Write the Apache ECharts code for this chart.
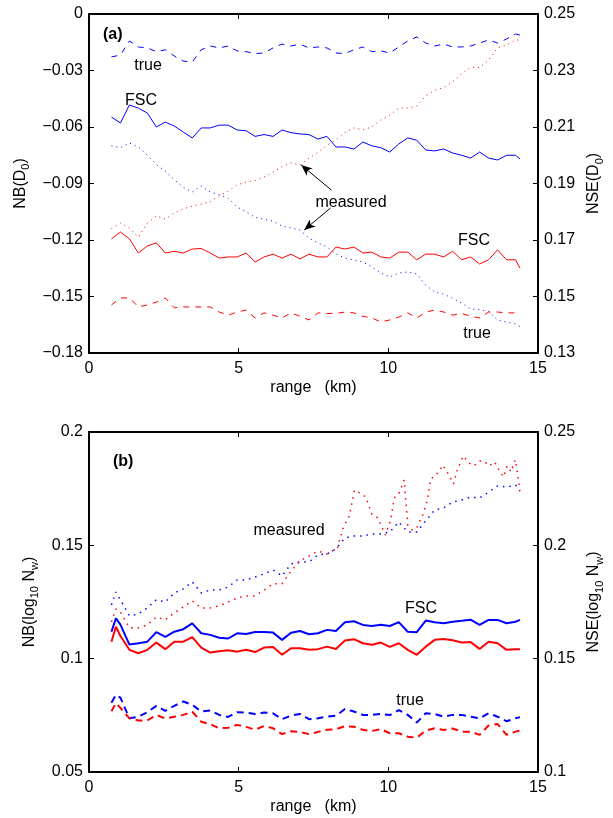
<!DOCTYPE html>
<html>
<head>
<meta charset="utf-8">
<script src="https://cdn.jsdelivr.net/npm/echarts@6/dist/echarts.min.js"></script>
<style>
  html, body { margin: 0; padding: 0; background: #fff; }
  #chart { width: 613px; height: 818px; }
</style>
</head>
<body>
<div id="chart"></div>
<script>
// range gates (km)
var xsA = [0.75,1.05,1.35,1.65,1.95,2.25,2.55,2.85,3.15,3.45,3.75,4.05,4.35,4.65,4.95,5.25,5.55,5.85,6.15,6.45,6.75,7.05,7.35,7.65,7.95,8.25,8.55,8.85,9.15,9.45,9.75,10.05,10.35,10.65,10.95,11.25,11.55,11.85,12.15,12.45,12.75,13.05,13.35,13.65,13.95,14.25,14.4];
var xsB = [0.75,0.9,1.05,1.35,1.65,1.95,2.25,2.55,2.85,3.15,3.45,3.75,4.05,4.35,4.65,4.95,5.25,5.55,5.85,6.15,6.45,6.75,7.05,7.35,7.65,7.95,8.25,8.55,8.85,9.15,9.45,9.75,10.05,10.35,10.65,10.95,11.25,11.55,11.85,12.15,12.45,12.75,13.05,13.35,13.65,13.95,14.25,14.4];
var xsBMeasRed = [0.75,0.9,1.05,1.35,1.65,1.95,2.25,2.55,2.85,3.15,3.45,3.75,4.05,4.35,4.65,4.95,5.25,5.55,5.85,6.15,6.45,6.75,7.05,7.35,7.65,7.95,8.3,8.5,8.7,8.87,9.05,9.25,9.45,9.65,9.9,10.07,10.2,10.35,10.53,10.65,10.8,10.95,11.15,11.3,11.42,11.6,11.83,12.0,12.18,12.3,12.5,12.7,12.85,13.05,13.2,13.37,13.55,13.7,13.85,13.97,14.1,14.24,14.33,14.4];

// (a) D0 : NB on left axis (blue), NSE on right axis (red)
var nbTrueA = [-0.0228,-0.0218,-0.0143,-0.0175,-0.018,-0.020,-0.019,-0.0223,-0.025,-0.0255,-0.019,-0.017,-0.018,-0.017,-0.0196,-0.020,-0.021,-0.0207,-0.018,-0.016,-0.017,-0.016,-0.018,-0.0175,-0.018,-0.0207,-0.021,-0.019,-0.0175,-0.020,-0.0196,-0.0207,-0.0175,-0.0143,-0.0122,-0.0154,-0.017,-0.016,-0.0175,-0.0175,-0.017,-0.0154,-0.0138,-0.0154,-0.0133,-0.0106,-0.0112];
var nbFscA = [-0.0547,-0.0579,-0.0483,-0.050,-0.0526,-0.060,-0.0574,-0.0595,-0.0627,-0.0658,-0.0605,-0.0605,-0.059,-0.059,-0.0616,-0.062,-0.065,-0.064,-0.065,-0.0616,-0.063,-0.0637,-0.064,-0.0664,-0.065,-0.0706,-0.0706,-0.0717,-0.068,-0.070,-0.071,-0.0733,-0.069,-0.0658,-0.067,-0.0722,-0.0727,-0.0717,-0.0738,-0.075,-0.0765,-0.0733,-0.0765,-0.0775,-0.075,-0.075,-0.077];
var nbMeasA = [-0.070,-0.071,-0.0685,-0.0706,-0.075,-0.080,-0.0834,-0.088,-0.092,-0.0945,-0.0913,-0.0945,-0.096,-0.0977,-0.1025,-0.105,-0.108,-0.109,-0.110,-0.1126,-0.1136,-0.1147,-0.119,-0.1216,-0.1237,-0.1274,-0.1296,-0.1306,-0.1317,-0.1343,-0.1375,-0.1397,-0.1375,-0.137,-0.138,-0.144,-0.1476,-0.1487,-0.151,-0.1535,-0.1566,-0.157,-0.158,-0.1625,-0.1635,-0.1646,-0.166];
var nseTrueA = [0.147,0.1495,0.1495,0.1463,0.147,0.148,0.1495,0.146,0.1463,0.1463,0.1463,0.1463,0.1445,0.1434,0.1445,0.1452,0.1424,0.1442,0.1434,0.1424,0.1442,0.143,0.1417,0.1442,0.144,0.144,0.1445,0.1442,0.143,0.1424,0.141,0.1417,0.1427,0.1442,0.1424,0.1445,0.1452,0.1445,0.1434,0.144,0.143,0.1424,0.1445,0.1445,0.1442,0.1442,0.144];
var nseFscA = [0.1704,0.1728,0.1704,0.1654,0.1679,0.169,0.1654,0.166,0.1654,0.1668,0.167,0.1654,0.1636,0.164,0.164,0.1654,0.1622,0.164,0.165,0.1636,0.165,0.1633,0.165,0.164,0.164,0.1675,0.1668,0.1675,0.1654,0.1657,0.164,0.1636,0.1657,0.1657,0.163,0.165,0.165,0.164,0.166,0.163,0.164,0.1615,0.163,0.1665,0.163,0.163,0.160];
var nseMeasA = [0.174,0.176,0.1742,0.171,0.176,0.1785,0.1774,0.1796,0.181,0.182,0.1827,0.1835,0.1856,0.1873,0.1895,0.1905,0.191,0.1923,0.194,0.196,0.1973,0.1965,0.199,0.201,0.2036,0.2054,0.208,0.2097,0.209,0.210,0.2125,0.2142,0.2167,0.2167,0.2174,0.221,0.223,0.224,0.226,0.2288,0.2312,0.231,0.2337,0.238,0.239,0.2408,0.2408];

// (b) log10 Nw
var nbTrueB = [0.0806,0.084,0.0828,0.0737,0.0744,0.0764,0.0792,0.077,0.0792,0.0811,0.0796,0.0767,0.0771,0.0752,0.0743,0.0764,0.0762,0.0756,0.0762,0.0759,0.0733,0.0749,0.0756,0.0733,0.0737,0.0744,0.0748,0.0778,0.0767,0.0752,0.0752,0.0756,0.0751,0.0773,0.0752,0.0718,0.0759,0.0756,0.0744,0.0752,0.0752,0.0744,0.0737,0.0759,0.0744,0.0724,0.0737,0.0742];
var nbFscB = [0.1119,0.1178,0.115,0.1062,0.1068,0.1075,0.1117,0.1096,0.1119,0.113,0.1156,0.1112,0.1105,0.1092,0.1089,0.1112,0.1109,0.1118,0.1118,0.1115,0.1083,0.1114,0.1122,0.1108,0.1112,0.1127,0.1122,0.1161,0.1165,0.1149,0.1144,0.115,0.1144,0.1161,0.1119,0.1117,0.1168,0.1161,0.1156,0.1163,0.1167,0.1172,0.1149,0.1171,0.1171,0.1156,0.1163,0.1171];
var nbMeasB = [0.1237,0.1294,0.126,0.1189,0.1197,0.1224,0.126,0.125,0.129,0.1308,0.1339,0.129,0.1303,0.1303,0.1316,0.1347,0.1347,0.136,0.1374,0.1391,0.1365,0.1418,0.1427,0.1427,0.1458,0.1462,0.1484,0.1533,0.1541,0.1541,0.155,0.155,0.1559,0.1603,0.1559,0.1559,0.1608,0.1656,0.1665,0.1691,0.17,0.1713,0.1709,0.1735,0.1762,0.1757,0.1766,0.1744];
var nseTrueB = [0.1268,0.1304,0.1283,0.1237,0.1227,0.1227,0.1252,0.1236,0.1244,0.1252,0.1266,0.1222,0.1211,0.1193,0.1195,0.1208,0.1199,0.1187,0.1203,0.1193,0.1167,0.118,0.1177,0.1167,0.1177,0.1186,0.1189,0.1202,0.12,0.1186,0.1181,0.1189,0.1171,0.1171,0.1156,0.1151,0.1183,0.1193,0.1185,0.1192,0.1178,0.1178,0.1164,0.1205,0.1212,0.1164,0.1178,0.1183];
var nseFscB = [0.1575,0.1641,0.16,0.1539,0.1524,0.1539,0.1571,0.1542,0.1575,0.1575,0.1595,0.1549,0.1527,0.1533,0.1537,0.1531,0.1539,0.1529,0.1549,0.1551,0.1517,0.1546,0.1546,0.1539,0.1542,0.1553,0.1543,0.158,0.1586,0.1568,0.1561,0.1571,0.1552,0.1568,0.1539,0.1517,0.1553,0.1583,0.1587,0.1581,0.1571,0.1573,0.1543,0.1575,0.1568,0.1539,0.1542,0.1542];
var nseMeasB = [0.1662,0.1719,0.1706,0.1636,0.1636,0.1649,0.1684,0.1671,0.1702,0.1728,0.1755,0.1724,0.1724,0.1733,0.175,0.1768,0.1777,0.1777,0.1803,0.183,0.183,0.1887,0.1931,0.1953,0.1975,0.1962,0.1988,0.2081,0.213,0.2244,0.2231,0.2213,0.2138,0.2121,0.2046,0.2108,0.2209,0.2227,0.2288,0.209,0.2068,0.2077,0.2134,0.2196,0.2293,0.231,0.2354,0.2315,0.2271,0.2332,0.2394,0.2363,0.235,0.2372,0.2372,0.235,0.2368,0.2332,0.2302,0.235,0.2324,0.2377,0.231,0.2231];

var FONT = 'Liberation Sans';
var BLUE = '#0000ff', RED = '#ff0000';

function pairs(xs, ys) {
    return xs.map(function (x, i) { return [x, ys[i]]; });
}

function line(xi, yi, xs, ys, color, type, width) {
    return {
        type: 'line',
        xAxisIndex: xi,
        yAxisIndex: yi,
        data: pairs(xs, ys),
        showSymbol: false,
        symbol: 'none',
        silent: true,
        lineStyle: { color: color, width: width, type: type, cap: 'butt' }
    };
}

function tickFmt(v) {
    if (v === 0) return '0';
    return String(+v.toFixed(2)).replace('-', '\u2212');
}

function xAxes(grid, top) {
    return {
        gridIndex: grid,
        type: 'value',
        position: top ? 'top' : 'bottom',
        min: 0, max: 15, interval: 5,
        name: top ? '' : 'range   (km)',
        nameLocation: 'middle',
        nameGap: 27,
        nameTextStyle: { fontFamily: FONT, fontSize: 16, color: '#000' },
        axisLine: { show: true, onZero: false, lineStyle: { color: '#000', width: 2 } },
        axisTick: { show: true, inside: true, length: 5, lineStyle: { color: '#000', width: 1 } },
        axisLabel: { show: !top, margin: 8, fontFamily: FONT, fontSize: 16, color: '#000' },
        splitLine: { show: false }
    };
}

var richName = {
    n: { fontFamily: FONT, fontSize: 16, color: '#000', lineHeight: 22 },
    s: { fontFamily: FONT, fontSize: 11, color: '#000', lineHeight: 22, verticalAlign: 'bottom' }
};

function yAxis(grid, right, min, max, interval, name, gap) {
    return {
        gridIndex: grid,
        type: 'value',
        position: right ? 'right' : 'left',
        min: min, max: max, interval: interval,
        name: name,
        nameLocation: 'middle',
        nameRotate: 90,
        nameGap: gap,
        nameTextStyle: { rich: richName },
        axisLine: { show: true, onZero: false, lineStyle: { color: '#000', width: 2 } },
        axisTick: { show: true, inside: true, length: 5, lineStyle: { color: '#000', width: 1 } },
        axisLabel: { margin: 6, fontFamily: FONT, fontSize: 16, color: '#000', formatter: tickFmt },
        splitLine: { show: false }
    };
}

function note(text, x, y, bold, align) {
    return {
        type: 'text',
        silent: true,
        style: {
            text: text, x: x, y: y,
            font: (bold ? 'bold ' : '') + '16px ' + FONT,
            fill: '#000',
            align: align || 'center', verticalAlign: 'middle',
            textAlign: align || 'center', textVerticalAlign: 'middle'
        }
    };
}

var dom = document.getElementById('chart');
var myChart = echarts.init(dom);

var measA = line(0, 0, xsA, nbMeasA, BLUE, [1, 4], 1);
measA.markLine = {
    silent: true,
    animation: false,
    symbol: ['none', 'arrow'],
    symbolSize: [7, 11],
    label: { show: false },
    lineStyle: { color: '#000', width: 1, type: 'solid' },
    data: [
        [{ coord: [8.1, -0.0935] }, { coord: [7.09, -0.0802] }],
        [{ coord: [8.07, -0.103] }, { coord: [7.19, -0.1147] }]
    ]
};

var option = {
    animation: false,
    backgroundColor: '#fff',
    grid: [
        { left: 89, right: 63, top: 14, height: 339 },
        { left: 89, right: 63, top: 432, height: 340 }
    ],
    xAxis: [xAxes(0, false), xAxes(0, true), xAxes(1, false), xAxes(1, true)],
    yAxis: [
        yAxis(0, false, -0.18, 0, 0.03, '{n|NB(D}{s|0}{n|)}', 50),
        yAxis(0, true, 0.13, 0.25, 0.02, '{n|NSE(D}{s|0}{n|)}', 42),
        yAxis(1, false, 0.05, 0.2, 0.05, '{n|NB(log}{s|10}{n| N}{s|w}{n|)}', 42),
        yAxis(1, true, 0.1, 0.25, 0.05, '{n|NSE(log}{s|10}{n| N}{s|w}{n|)}', 42)
    ],
    series: [
        line(0, 0, xsA, nbTrueA, BLUE, [6, 6], 1),
        line(0, 0, xsA, nbFscA, BLUE, 'solid', 1),
        measA,
        line(0, 1, xsA, nseTrueA, RED, [6, 6], 1),
        line(0, 1, xsA, nseFscA, RED, 'solid', 1),
        line(0, 1, xsA, nseMeasA, RED, [1, 4], 1),
        line(2, 2, xsB, nbTrueB, BLUE, [7, 5], 2),
        line(2, 2, xsB, nbFscB, BLUE, 'solid', 2),
        line(2, 2, xsB, nbMeasB, BLUE, [1.5, 5], 1.5),
        line(2, 3, xsB, nseTrueB, RED, [7, 5], 2),
        line(2, 3, xsB, nseFscB, RED, 'solid', 2),
        line(2, 3, xsBMeasRed, nseMeasB, RED, [1.5, 5], 1.5)
    ],
    graphic: [
        note('(a)', 103, 35, true, 'left'),
        note('true', 148, 66),
        note('FSC', 141, 101),
        note('measured', 351, 203),
        note('FSC', 474, 241),
        note('true', 477, 334),
        note('(b)', 113, 462, true, 'left'),
        note('measured', 289, 531),
        note('FSC', 421, 609),
        note('true', 410, 701)
    ]
};

if (option && typeof option === 'object') {
    myChart.setOption(option, true);
}
</script>
</body>
</html>
